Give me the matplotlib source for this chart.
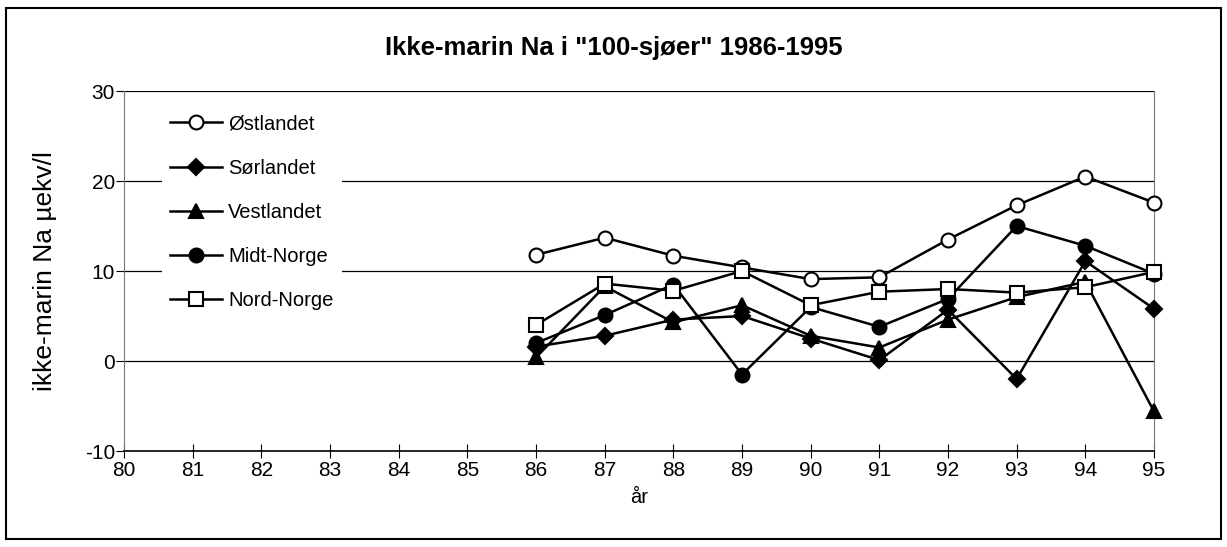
import matplotlib.pyplot as plt
from matplotlib.patches import Rectangle

plt.rcParams['font.family'] = ['Liberation Sans', 'DejaVu Sans']
plt.rcParams['axes.unicode_minus'] = False

years = [86, 87, 88, 89, 90, 91, 92, 93, 94, 95]

ostlandet = [11.8, 13.7, 11.7, 10.4, 9.1, 9.3, 13.5, 17.3, 20.5, 17.6]
sorlandet = [1.6, 2.8, 4.6, 5.0, 2.5, 0.1, 5.7, -2.0, 11.1, 5.8]
vestlandet = [0.4, 8.3, 4.3, 6.2, 2.8, 1.5, 4.6, 7.1, 8.8, -5.6]
midt_norge = [2.0, 5.1, 8.5, -1.5, 6.0, 3.8, 6.9, 15.0, 12.8, 9.7]
nord_norge = [4.0, 8.6, 7.8, 10.0, 6.2, 7.7, 8.0, 7.6, 8.2, 9.9]

fig = plt.figure(figsize=(12.27, 5.47), dpi=100)
ax = fig.add_axes([0.1011, 0.1755, 0.8394, 0.6581])

# outer frame round the whole chart
fig.patches.append(Rectangle((0.005, 0.015), 0.99, 0.97, transform=fig.transFigure,
                             fill=False, edgecolor='black', linewidth=1.5))

kw = dict(color='black', linewidth=1.8, markeredgewidth=1.5, clip_on=False)
ax.plot(years, ostlandet, marker='o', markersize=10, markerfacecolor='white', label='Østlandet', zorder=5, **kw)
ax.plot(years, sorlandet, marker='D', markersize=8, markerfacecolor='black', label='Sørlandet', zorder=4, **kw)
ax.plot(years, vestlandet, marker='^', markersize=10, markerfacecolor='black', label='Vestlandet', zorder=4, **kw)
ax.plot(years, midt_norge, marker='o', markersize=10, markerfacecolor='black', label='Midt-Norge', zorder=4, **kw)
ax.plot(years, nord_norge, marker='s', markersize=10, markerfacecolor='white', label='Nord-Norge', zorder=6, **kw)

ax.set_xlim(80, 95)
ax.set_ylim(-10, 30)
ax.set_xticks(range(80, 96))
ax.set_yticks([-10, 0, 10, 20, 30])
ax.tick_params(axis='x', direction='inout', length=10, labelsize=15, pad=2)
ax.tick_params(axis='y', direction='out', length=6, labelsize=15, pad=0.5)

for y in [0, 10, 20, 30]:
    ax.axhline(y, color='black', linewidth=0.9, zorder=1)

for side in ['left', 'right']:
    ax.spines[side].set_color('#777777')
    ax.spines[side].set_linewidth(0.8)
ax.spines['top'].set_visible(False)
ax.spines['bottom'].set_linewidth(1.2)

fig.text(0.5, 1 - 48 / 547, 'Ikke-marin Na i "100-sjøer" 1986-1995', fontsize=18.5,
         fontweight='bold', ha='center', va='center')
ax.set_ylabel('ikke-marin Na µekv/l', fontsize=19, labelpad=20)
ax.set_xlabel('år', fontsize=14.5, labelpad=6)

leg = ax.legend(loc='upper left', bbox_to_anchor=(0.027, 0.985), fontsize=14.5,
                frameon=True, fancybox=False, edgecolor='none', facecolor='white',
                framealpha=1, handlelength=2.6, handletextpad=0.3, labelspacing=1.25,
                borderpad=0.4)
leg.set_zorder(10)

fig.savefig('out.png', dpi=100)
